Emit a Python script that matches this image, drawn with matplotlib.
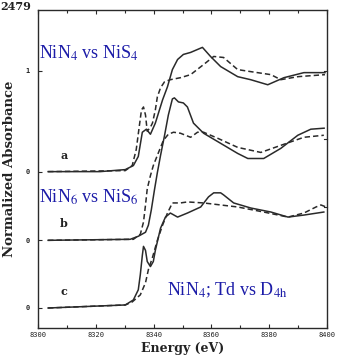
import matplotlib
matplotlib.use("Agg")
import matplotlib.pyplot as plt
import numpy as np

plt.rcParams['mathtext.fontset'] = 'stix'

# ---- data (energy in eV, normalized absorbance) ----
a_solid_E = [8303.5, 8321.5, 8330.2, 8333.0, 8334.7, 8336.1, 8337.5, 8338.9, 8340.6, 8343.1,
             8344.8, 8346.5, 8348.3, 8350.3, 8352.8, 8356.9, 8359.7, 8363.2, 8369.1, 8373.6,
             8379.5, 8385.1, 8392.0, 8399.3]
a_solid_y = [0, 0, 0.02, 0.06, 0.15, 0.39, 0.42, 0.37, 0.48, 0.71, 0.84, 1.01, 1.11, 1.16, 1.18,
             1.23, 1.14, 1.04, 0.94, 0.91, 0.86, 0.93, 0.98, 0.98]
a_dash_E = [8303.5, 8330.2, 8332.6, 8334.0, 8335.1, 8335.8, 8336.5, 8337.2, 8337.8, 8338.9,
            8339.6, 8340.6, 8341.3, 8342.4, 8343.8, 8345.8, 8349.3, 8352.8, 8357.3, 8360.8,
            8364.2, 8369.1, 8373.6, 8380.6, 8384.0, 8389.9, 8399.3]
a_dash_y = [0, 0.01, 0.06, 0.22, 0.46, 0.61, 0.64, 0.56, 0.40, 0.44, 0.48, 0.61, 0.74, 0.83,
            0.89, 0.91, 0.93, 0.96, 1.06, 1.14, 1.13, 1.01, 0.99, 0.96, 0.91, 0.94, 0.96]

b_solid_E = [8303.5, 8331.9, 8334.7, 8337.2, 8338.2, 8339.2, 8340.3, 8341.3, 8342.4, 8343.8,
             8345.1, 8346.5, 8347.2, 8348.6, 8350.3, 8351.7, 8353.8, 8357.3, 8363.2, 8369.1,
             8372.6, 8378.1, 8384.0, 8389.9, 8394.4, 8399.0]
b_solid_y = [0, 0.01, 0.04, 0.08, 0.15, 0.30, 0.50, 0.67, 0.84, 1.04, 1.24, 1.40, 1.41, 1.37,
             1.36, 1.32, 1.16, 1.06, 0.96, 0.86, 0.81, 0.81, 0.91, 1.04, 1.10, 1.11]
b_dash_E = [8303.5, 8333.0, 8335.4, 8336.5, 8337.2, 8337.8, 8338.9, 8339.9, 8341.7, 8343.4,
            8345.1, 8346.9, 8349.3, 8352.8, 8355.2, 8357.3, 8362.2, 8369.1, 8377.1, 8384.0,
            8392.0, 8398.9]
b_dash_y = [0, 0.01, 0.06, 0.18, 0.35, 0.51, 0.64, 0.74, 0.87, 0.99, 1.05, 1.07, 1.06, 1.02,
            1.07, 1.07, 1.01, 0.92, 0.87, 0.94, 1.02, 1.04]

c_solid_E = [8303.5, 8330.2, 8333.0, 8334.7, 8335.4, 8336.1, 8336.5, 8337.2, 8337.8, 8338.9,
             8339.9, 8340.6, 8342.4, 8344.1, 8345.8, 8348.3, 8351.7, 8356.3, 8359.0, 8360.8,
             8363.2, 8364.2, 8367.7, 8373.6, 8380.6, 8386.5, 8392.0, 8398.9]
c_solid_y = [0, 0.03, 0.08, 0.18, 0.33, 0.52, 0.61, 0.57, 0.46, 0.41, 0.46, 0.57, 0.79, 0.90,
             0.94, 0.90, 0.94, 1.00, 1.10, 1.14, 1.14, 1.12, 1.04, 0.99, 0.95, 0.90, 0.92, 0.95]
c_dash_E = [8303.5, 8330.2, 8332.6, 8335.4, 8337.2, 8338.2, 8339.6, 8341.3, 8343.1, 8344.8,
            8346.5, 8349.3, 8351.7, 8357.3, 8369.1, 8378.1, 8386.5, 8392.0, 8396.2, 8397.9,
            8399.7]
c_dash_y = [0, 0.03, 0.06, 0.13, 0.25, 0.38, 0.50, 0.67, 0.82, 0.94, 1.04, 1.04, 1.05, 1.04,
            1.00, 0.95, 0.90, 0.94, 1.00, 1.02, 1.00]

offsets = {'a': 1.35, 'b': 0.67, 'c': 0.0}
x_ticks = [8300, 8320, 8340, 8360, 8380, 8400]
y_tick_labels = ['0', '0', '0', '1']
annotations = [r'NiN$_4$ vs NiS$_4$', r'NiN$_6$ vs NiS$_6$', r'NiN$_4$; Td vs D$_\mathrm{4h}$']

# ---- figure ----
fig = plt.figure(figsize=(3.39, 3.58), dpi=100)
ax = fig.add_axes([38/339, 1 - 328/358, 289/339, 318/358])

ink = '#2a2a2a'
series = [('a', a_solid_E, a_solid_y, a_dash_E, a_dash_y),
          ('b', b_solid_E, b_solid_y, b_dash_E, b_dash_y),
          ('c', c_solid_E, c_solid_y, c_dash_E, c_dash_y)]
for name, sE, sy, dE, dy in series:
    off = offsets[name]
    ax.plot(sE, np.array(sy) + off, color=ink, lw=1.1, solid_joinstyle='round')
    ax.plot(dE, np.array(dy) + off, color=ink, lw=1.1, dashes=(3.5, 2.0))
    ax.text(8309.0, off + 0.11, name, fontsize=8, family='DejaVu Serif', fontweight='bold',
            ha='center', va='bottom', color='#222222')

ax.set_xlim(8300, 8400)
ax.set_ylim(-0.198, 2.95)

ax.set_xticks(x_ticks)
ax.set_xticks([8310, 8330, 8350, 8370, 8390], minor=True)
ax.set_xticklabels([str(t) for t in x_ticks], fontsize=5, family='DejaVu Sans Mono')
ax.set_yticks([offsets['c'], offsets['b'], offsets['a'], offsets['a'] + 1])
ax.set_yticklabels(y_tick_labels, fontsize=5, family='DejaVu Sans Mono', fontweight='bold')
ax.tick_params(axis='both', which='both', direction='in', top=True, color=ink, width=0.8,
               labelcolor='#222222')
ax.tick_params(axis='x', which='major', length=3, pad=3)
ax.tick_params(axis='x', which='minor', length=2)
ax.tick_params(axis='y', which='major', length=3, pad=6)

# right side ticks
for off in [offsets['a'] + 1, offsets['b'] + 1, offsets['c'] + 1]:
    ax.plot([8398.8, 8400], [off, off], color=ink, lw=0.8, clip_on=False)

for s in ax.spines.values():
    s.set_linewidth(1.0)
    s.set_color(ink)

ax.set_xlabel('Energy (eV)', fontsize=9, family='DejaVu Serif', fontweight='bold',
              color='#222222', labelpad=3)
ax.set_ylabel('Normalized Absorbance', fontsize=9.5, family='DejaVu Serif',
              fontweight='bold', color='#222222', labelpad=7)

blue = '#1c1ca8'
ax.text(8300.2, 2.52, annotations[0], fontsize=13, family='Liberation Serif',
        color=blue, va='center', ha='left')
ax.text(8300.2, 1.10, annotations[1], fontsize=13, family='Liberation Serif',
        color=blue, va='center', ha='left')
ax.text(8344.6, 0.17, annotations[2], fontsize=13, family='Liberation Serif',
        color=blue, va='center', ha='left')

fig.text(0.002, 0.998, '2479', fontsize=8, family='DejaVu Serif', fontweight='bold',
         va='top', ha='left', color='#222222')

fig.savefig('out.png', dpi=100)
